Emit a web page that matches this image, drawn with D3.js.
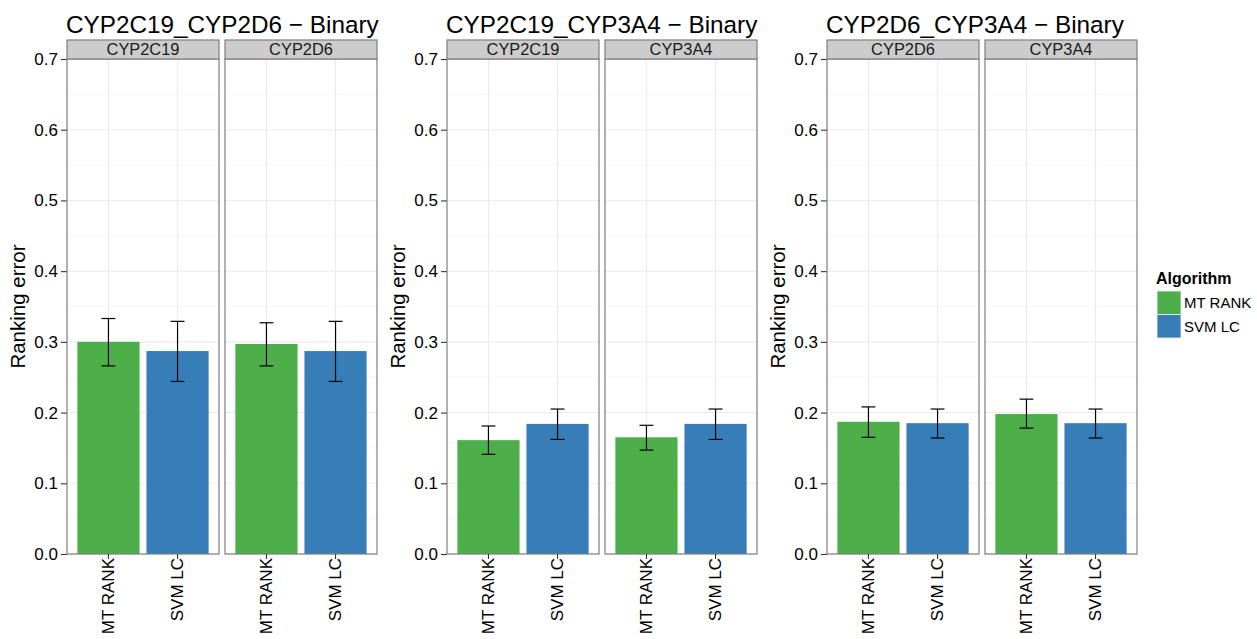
<!DOCTYPE html>
<html>
<head>
<meta charset="utf-8">
<script src="https://cdnjs.cloudflare.com/ajax/libs/d3/7.8.5/d3.min.js"></script>
<style>
  body { margin: 0; background: #fff; }
  svg { display: block; font-family: "Liberation Sans", Arial, sans-serif; }
</style>
</head>
<body>
<svg id="chart" width="1257" height="639"></svg>
<script>
// chart data
var plotTitles = ["CYP2C19_CYP2D6 \u2212 Binary", "CYP2C19_CYP3A4 \u2212 Binary", "CYP2D6_CYP3A4 \u2212 Binary"];
var facetNames = [["CYP2C19", "CYP2D6"], ["CYP2C19", "CYP3A4"], ["CYP2D6", "CYP3A4"]];
var algorithms = ["MT RANK", "SVM LC"];
var algoColors = ["#4DAF4A", "#377EB8"];

// mean ranking error [plot][facet][algorithm]
var meanError = [
  [[0.300, 0.287], [0.297, 0.287]],
  [[0.161, 0.184], [0.165, 0.184]],
  [[0.187, 0.185], [0.198, 0.185]]
];
var lowerError = [
  [[0.266, 0.244], [0.266, 0.244]],
  [[0.141, 0.162], [0.147, 0.162]],
  [[0.165, 0.164], [0.178, 0.164]]
];
var upperError = [
  [[0.333, 0.329], [0.327, 0.329]],
  [[0.181, 0.205], [0.182, 0.205]],
  [[0.208, 0.205], [0.219, 0.205]]
];

var yTicks = [0, 0.1, 0.2, 0.3, 0.4, 0.5, 0.6, 0.7];
var yMinorTicks = [0.05, 0.15, 0.25, 0.35, 0.45, 0.55, 0.65];

var svg = d3.select("#chart");

var firstPlotX = 67,
  plotStep = 380,
  facetWidth = 152,
  facetGap = 6,
  panelTop = 59,
  panelBottom = 554,
  stripHeight = 19;

var y = d3.scaleLinear().domain([0, 0.7]).range([panelBottom, panelTop]);

var x = d3.scaleBand()
  .domain(algorithms)
  .range([0, facetWidth])
  .paddingInner(0.1)
  .paddingOuter(0.15);

var color = d3.scaleOrdinal().domain(algorithms).range(algoColors);

function drawPlot(p) {
  var g = svg.append("g")
    .attr("transform", "translate(" + (firstPlotX + p * plotStep) + ",0)");

  g.append("text")
    .attr("x", -1)
    .attr("y", 33)
    .attr("font-size", 24.3)
    .attr("fill", "#000")
    .text(plotTitles[p]);

  // y axis title
  g.append("text")
    .attr("transform", "translate(-42," + ((panelTop + panelBottom) / 2) + ") rotate(-90)")
    .attr("text-anchor", "middle")
    .attr("font-size", 20.5)
    .text("Ranking error");

  // y axis
  var yAxis = g.append("g")
    .call(d3.axisLeft(y).tickValues(yTicks).tickSize(6).tickPadding(3).tickFormat(d3.format(".1f")));
  yAxis.select(".domain").remove();
  yAxis.selectAll(".tick line").attr("stroke", "#333").attr("stroke-width", 1.1);
  yAxis.selectAll(".tick text")
    .attr("font-size", 17)
    .attr("font-family", "Liberation Sans, Arial, sans-serif")
    .attr("fill", "#000");

  facetNames[p].forEach(function(name, f) {
    var fg = g.append("g")
      .attr("transform", "translate(" + (f * (facetWidth + facetGap)) + ",0)");

    // grid
    fg.selectAll("line.minor")
      .data(yMinorTicks)
      .enter().append("line")
        .attr("x1", 0).attr("x2", facetWidth)
        .attr("y1", function(d) { return y(d); })
        .attr("y2", function(d) { return y(d); })
        .attr("stroke", "#F7F7F7")
        .attr("stroke-width", 1);

    fg.selectAll("line.major")
      .data(yTicks)
      .enter().append("line")
        .attr("x1", 0).attr("x2", facetWidth)
        .attr("y1", function(d) { return y(d); })
        .attr("y2", function(d) { return y(d); })
        .attr("stroke", "#EBEBEB")
        .attr("stroke-width", 1.1);

    fg.selectAll("line.vgrid")
      .data(algorithms)
      .enter().append("line")
        .attr("x1", function(d) { return x(d) + x.bandwidth() / 2; })
        .attr("x2", function(d) { return x(d) + x.bandwidth() / 2; })
        .attr("y1", panelTop).attr("y2", panelBottom)
        .attr("stroke", "#EBEBEB")
        .attr("stroke-width", 1.1);

    var rows = algorithms.map(function(a, i) {
      return {
        algo: a,
        mean: meanError[p][f][i],
        lo: lowerError[p][f][i],
        hi: upperError[p][f][i]
      };
    });

    // bars
    fg.selectAll("rect.bar")
      .data(rows)
      .enter().append("rect")
        .attr("x", function(d) { return x(d.algo); })
        .attr("width", x.bandwidth())
        .attr("y", function(d) { return y(d.mean); })
        .attr("height", function(d) { return y(0) - y(d.mean); })
        .attr("fill", function(d) { return color(d.algo); });

    // error bars
    var capHalf = x.step() * 0.1;
    var eb = fg.selectAll("g.err")
      .data(rows)
      .enter().append("g")
        .attr("stroke", "#000")
        .attr("stroke-width", 1.2);
    eb.append("line")
      .attr("x1", function(d) { return x(d.algo) + x.bandwidth() / 2; })
      .attr("x2", function(d) { return x(d.algo) + x.bandwidth() / 2; })
      .attr("y1", function(d) { return y(d.lo); })
      .attr("y2", function(d) { return y(d.hi); });
    eb.append("line")
      .attr("x1", function(d) { return x(d.algo) + x.bandwidth() / 2 - capHalf; })
      .attr("x2", function(d) { return x(d.algo) + x.bandwidth() / 2 + capHalf; })
      .attr("y1", function(d) { return y(d.hi); })
      .attr("y2", function(d) { return y(d.hi); });
    eb.append("line")
      .attr("x1", function(d) { return x(d.algo) + x.bandwidth() / 2 - capHalf; })
      .attr("x2", function(d) { return x(d.algo) + x.bandwidth() / 2 + capHalf; })
      .attr("y1", function(d) { return y(d.lo); })
      .attr("y2", function(d) { return y(d.lo); });

    // panel border
    fg.append("rect")
      .attr("x", 0).attr("y", panelTop)
      .attr("width", facetWidth).attr("height", panelBottom - panelTop)
      .attr("fill", "none")
      .attr("stroke", "#7F7F7F")
      .attr("stroke-width", 1.2);

    // strip
    fg.append("rect")
      .attr("x", 0).attr("y", panelTop - stripHeight)
      .attr("width", facetWidth).attr("height", stripHeight)
      .attr("fill", "#CCCCCC")
      .attr("stroke", "#7F7F7F")
      .attr("stroke-width", 1.2);
    fg.append("text")
      .attr("x", facetWidth / 2)
      .attr("y", panelTop - stripHeight / 2)
      .attr("dy", "0.36em")
      .attr("text-anchor", "middle")
      .attr("font-size", 16.4)
      .attr("fill", "#1A1A1A")
      .text(name);

    // x axis
    var xAxis = fg.append("g")
      .attr("transform", "translate(0," + panelBottom + ")")
      .call(d3.axisBottom(x).tickSize(5).tickPadding(3));
    xAxis.select(".domain").remove();
    xAxis.selectAll(".tick line").attr("stroke", "#333").attr("stroke-width", 1.1);
    xAxis.selectAll(".tick text")
      .attr("font-size", 17)
      .attr("font-family", "Liberation Sans, Arial, sans-serif")
      .attr("fill", "#000")
      .attr("text-anchor", "end")
      .attr("transform", "translate(0,4) rotate(-90)")
      .attr("x", 0)
      .attr("y", 0)
      .attr("dy", "0.35em");
  });
}

d3.range(plotTitles.length).forEach(drawPlot);

// legend
var legend = svg.append("g").attr("transform", "translate(1147,0)");
legend.append("text")
  .attr("x", 9)
  .attr("y", 284)
  .attr("font-size", 16)
  .attr("font-weight", "bold")
  .text("Algorithm");

var items = legend.selectAll("g.item")
  .data(algorithms)
  .enter().append("g")
    .attr("transform", function(d, i) { return "translate(10," + (291 + i * 23.5) + ")"; });
items.append("rect")
  .attr("width", 24)
  .attr("height", 23.5)
  .attr("fill", function(d) { return color(d); })
  .attr("stroke", "#F2F2F2")
  .attr("stroke-width", 0.8);
items.append("text")
  .attr("x", 27)
  .attr("y", 12)
  .attr("dy", "0.36em")
  .attr("font-size", 15)
  .text(function(d) { return d; });
</script>
</body>
</html>
